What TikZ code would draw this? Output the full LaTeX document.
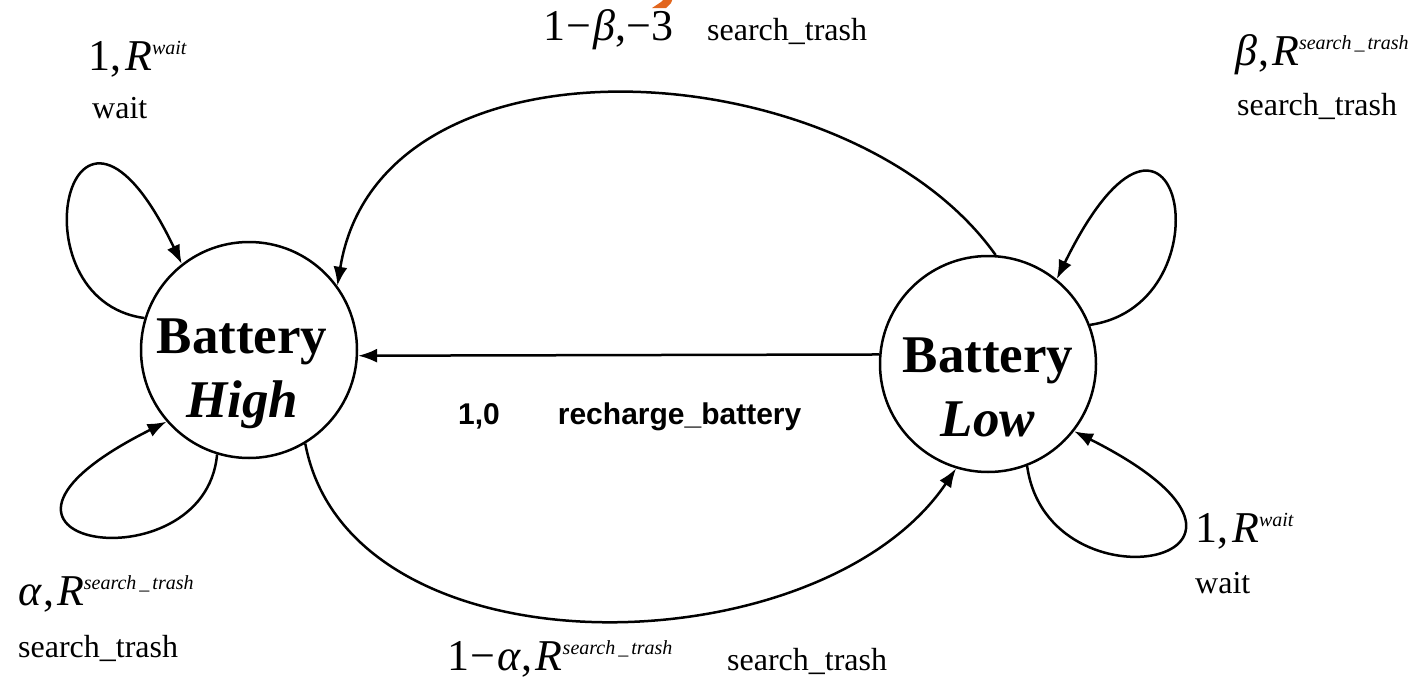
\documentclass[tikz,border=0pt]{standalone}
\usepackage{fontspec}
\setmainfont{Liberation Serif}
\newfontfamily\arialfont{Liberation Sans}
\usetikzlibrary{arrows.meta}
\definecolor{markorange}{HTML}{E2661E}
\newcommand\bigsz{\fontsize{44}{48}\selectfont}
\newcommand\labsz{\fontsize{32}{36}\selectfont}
\newcommand\Rsup[1]{\textit{R}\raisebox{16pt}{\fontsize{20}{20}\selectfont\itshape #1}}
\newcommand\stsup{\Rsup{search\kern3pt\_\kern3pt trash}}
\begin{document}
\begin{tikzpicture}[x=1pt,y=-1pt,
  statebox/.style={circle, draw, line width=2.5pt, minimum size=216pt, inner sep=0pt},
  statetext/.style={align=center, inner sep=0pt, font=\fontsize{53}{64}\selectfont\bfseries},
  edge/.style={line width=2.5pt, -{Latex[length=19pt,width=14pt]}},
  lbl/.style={anchor=base west, inner sep=0pt},
  rlbl/.style={anchor=base west, inner sep=0pt, font=\arialfont\bfseries\fontsize{30}{34}\selectfont}]
\useasboundingbox (0,0) rectangle (1428,680);

\node[statebox] (high) at (249,350) {};
\node[statebox] (low) at (988,364) {};
\node[statetext] (hightext) at (242,374) {Battery\\\textit{High}};
\node[statetext] (lowtext) at (988,387) {Battery\\\textit{Low}};

% straight recharge arrow
\draw[edge] (low.175) -- (high.357);
% top arc low -> high
\draw[edge] (low.86) .. controls (850,50) and (380,20) .. (high.36);
% bottom arc high -> low
\draw[edge] (high.301) .. controls (350,680) and (820,670) .. (low.253);
% self loops
\draw[edge] (high.163) .. controls (10,300) and (70,30) .. (high.128);
\draw[edge] (high.253.5) .. controls (205,590) and (-80,545) .. (high.221.6);
\draw[edge] (low.21) .. controls (1233,304) and (1178,32) .. (low.51.4);
\draw[edge] (low.291) .. controls (1048,617) and (1330,560) .. (low.322);

% small orange mark at top
\fill[markorange] (652,8) -- (661,2) -- (665,-2) -- (673,-2) -- (671,3) -- (666,8) -- cycle;

% labels
\node[lbl, font=\bigsz] (l1) at (88,70) {1,\kern4pt\Rsup{wait}};
\node[lbl, font=\labsz] (l1b) at (92,118) {wait};

\node[lbl, font=\bigsz] (l2) at (543,40) {1\kern1pt−\kern2pt\textit{β}\kern1pt,−3};
\node[lbl, font=\labsz] (l2b) at (707,40) {search\_trash};

\node[lbl, font=\bigsz] (l3) at (1235,65) {\textit{β}\kern1pt,\kern3pt\stsup};
\node[lbl, font=\labsz] (l3b) at (1237,115) {search\_trash};

\node[lbl, font=\bigsz] (l4) at (18,605) {\textit{α}\kern1pt,\kern3pt\stsup};
\node[lbl, font=\labsz] (l4b) at (18,657) {search\_trash};

\node[lbl, font=\bigsz] (l5) at (447,670) {1\kern1pt−\kern2pt\textit{α}\kern1pt,\kern3pt\stsup};
\node[lbl, font=\labsz] (l5b) at (727,670) {search\_trash};

\node[lbl, font=\bigsz] (l6) at (1195,542) {1,\kern4pt\Rsup{wait}};
\node[lbl, font=\labsz] (l6b) at (1195,593) {wait};

\node[rlbl] (l7) at (458,424) {1,0\hspace{58pt}recharge\_battery};
\end{tikzpicture}
\end{document}
